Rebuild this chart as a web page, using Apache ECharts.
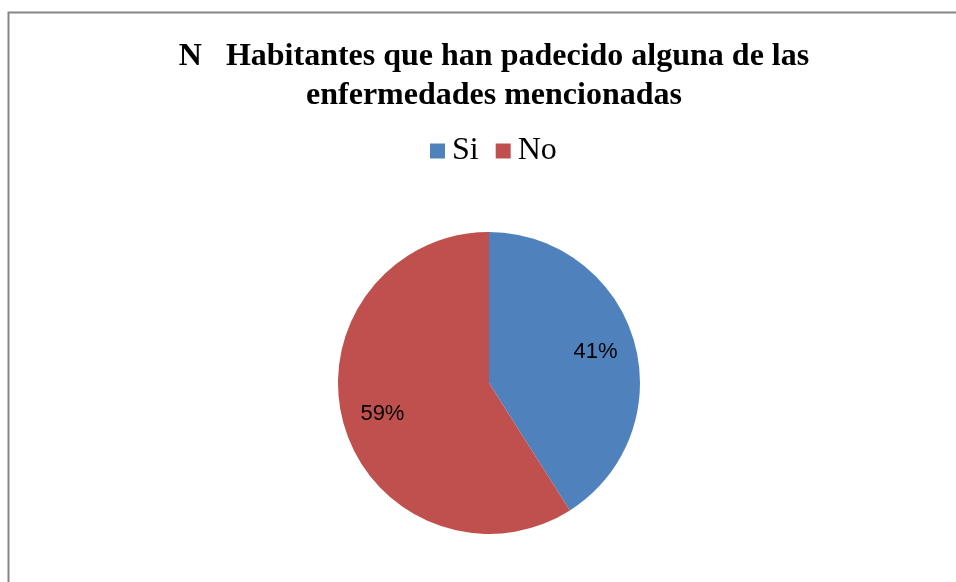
<!DOCTYPE html>
<html>
<head>
<meta charset="utf-8">
<script src="https://cdn.jsdelivr.net/npm/echarts@6/dist/echarts.min.js"></script>
<style>
  html, body { margin: 0; padding: 0; background: #fff; }
  #main { width: 956px; height: 582px; }
</style>
</head>
<body>
<div id="main"></div>
<script>
// chart data
var categories = ["Si", "No"];
var values = [41, 59];
var colors = ["#4F81BD", "#C0504D"];

var myChart = echarts.init(document.getElementById("main"));

var pieData = categories.map(function (name, i) {
  return { name: name, value: values[i], itemStyle: { color: colors[i] } };
});

var option = {
  animation: false,
  title: {
    text: "N   Habitantes que han padecido alguna de las\nenfermedades mencionadas",
    left: 489,
    top: 32,
    textAlign: "center",
    textStyle: {
      fontFamily: "Liberation Serif",
      fontWeight: "bold",
      fontSize: 32,
      lineHeight: 39,
      color: "#000",
    },
  },
  legend: {
    data: categories,
    left: 430,
    top: 135,
    padding: 0,
    icon: "rect",
    itemWidth: 15,
    itemHeight: 15,
    itemGap: 17,
    textStyle: {
      fontFamily: "Liberation Serif",
      fontSize: 32,
      color: "#000",
      padding: [0, 0, 0, 2],
    },
  },
  graphic: [
    {
      type: "rect",
      shape: { x: 8.5, y: 12.5, width: 1000, height: 700 },
      style: { fill: "none", stroke: "#868686", lineWidth: 2 },
      silent: true,
    },
  ],
  series: [
    {
      // the visible pie
      type: "pie",
      center: [489, 383],
      radius: [0, 151],
      startAngle: 90,
      clockwise: true,
      label: { show: false },
      labelLine: { show: false },
      itemStyle: { borderWidth: 0 },
      data: pieData,
    },
    {
      // invisible pie used only to place percent labels further out
      type: "pie",
      center: [489, 383],
      radius: [0, 216],
      startAngle: 90,
      clockwise: true,
      silent: true,
      itemStyle: { color: "transparent" },
      label: {
        show: true,
        position: "inside",
        formatter: "{c}%",
        fontFamily: "Liberation Sans",
        fontSize: 22,
        color: "#000",
      },
      labelLine: { show: false },
      data: categories.map(function (name, i) {
        return { name: name, value: values[i] };
      }),
    },
  ],
};

option && myChart.setOption(option);
</script>
</body>
</html>
